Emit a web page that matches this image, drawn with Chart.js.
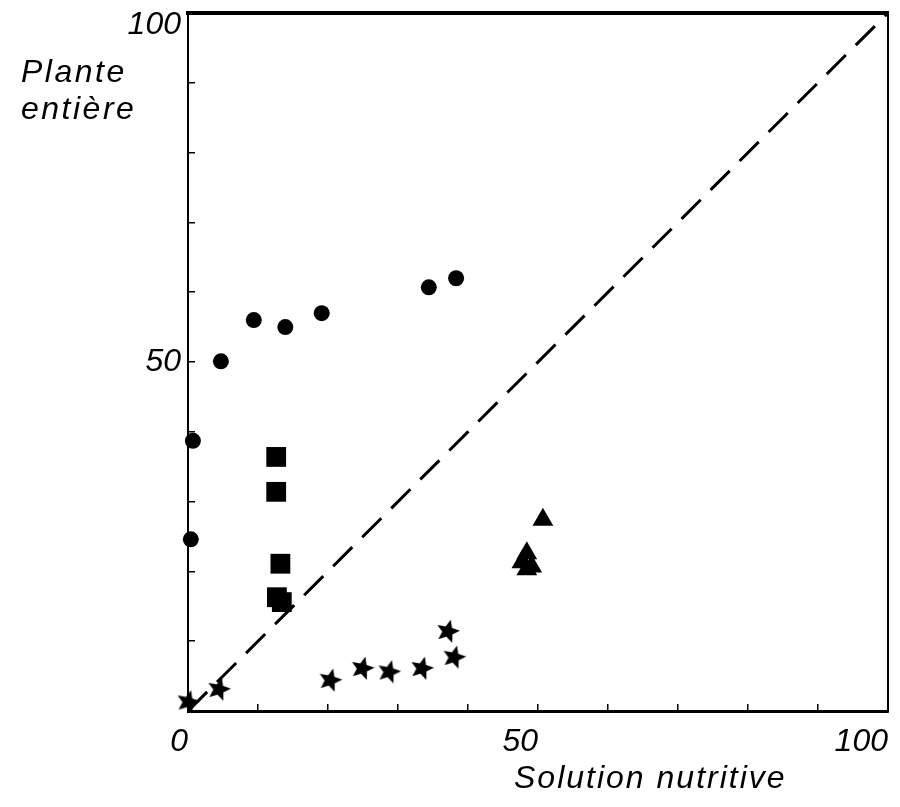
<!DOCTYPE html>
<html>
<head>
<meta charset="utf-8">
<script src="https://cdn.jsdelivr.net/npm/chart.js@4.4.0/dist/chart.umd.min.js"></script>
<style>
    html, body { margin: 0; padding: 0; background: #fff; }
    #wrap { position: relative; width: 900px; height: 807px; }
    #chart { position: absolute; left: 0; top: 0; }
    .lbl {
        position: absolute;
        font-family: "Liberation Sans", Arial, sans-serif;
        font-style: italic;
        font-size: 32px;
        letter-spacing: 2.5px;
        color: #000;
        white-space: nowrap;
    }
</style>
</head>
<body>
<div id="wrap">
    <canvas id="chart" width="900" height="807"></canvas>
    <div class="lbl" style="left:21px; top:53px; line-height:37px;">Plante<br>entière</div>
    <div class="lbl" style="left:514px; top:761px; line-height:32px; letter-spacing:2px;">Solution nutritive</div>
</div>
<script>
// valeurs (% solution nutritive / % plante entière)
const circleX = [0.7, 0.4, 4.7, 9.4, 13.9, 19.1, 34.4, 38.3];
const circleY = [38.7, 24.6, 50.1, 56.0, 55.0, 57.0, 60.7, 62.0];

const squareX = [12.6, 12.6, 13.2, 12.7, 13.4];
const squareY = [36.4, 31.4, 21.1, 16.3, 15.6];

const triangleX = [50.7, 48.4, 47.7, 49.1, 48.4];
const triangleY = [27.4, 22.6, 21.3, 20.7, 20.3];

const starX = [0.0, 4.4, 20.3, 24.9, 28.7, 33.4, 37.1, 38.0];
const starY = [1.3, 3.1, 4.4, 6.1, 5.6, 6.1, 11.4, 7.7];

// droite y = x
const diagX = [0, 100];
const diagY = [0, 100];

const axisMin = 0;
const axisMax = 100;
const tickStep = 10;
const xTickLabels = [0, 50, 100];
const yTickLabels = [50, 100];

function toPoints(xs, ys) {
    return xs.map((x, i) => ({ x: x, y: ys[i] }));
}

// étoile pleine à 5 branches pour les points
function makeStar(size) {
    const c = document.createElement('canvas');
    c.width = size;
    c.height = size;
    const g = c.getContext('2d');
    g.translate(size / 2, size / 2);
    g.rotate(0.25);
    g.beginPath();
    for (let i = 0; i < 10; i++) {
        const r = i % 2 ? size * 0.22 : size * 0.49;
        const a = -Math.PI / 2 + i * Math.PI / 5;
        g.lineTo(r * Math.cos(a), r * Math.sin(a));
    }
    g.closePath();
    g.fillStyle = '#000';
    g.fill();
    return c;
}

const tickFont = { family: '"Liberation Sans", Arial, sans-serif', style: 'italic', size: 32, lineHeight: 0.75 };

// pas de marge automatique: la zone de tracé reste fixe
function noPad(s) {
    s.paddingTop = 0;
    s.paddingBottom = 0;
    s.paddingLeft = 0;
    s.paddingRight = 0;
}

const ctx = document.getElementById('chart').getContext('2d');
new Chart(ctx, {
    type: 'scatter',
    data: {
        datasets: [
            {
                type: 'line',
                data: toPoints(diagX, diagY),
                borderColor: '#000',
                borderWidth: 3,
                borderDash: [27, 14],
                pointRadius: 0,
                fill: false
            },
            {
                data: toPoints(circleX, circleY),
                pointStyle: 'circle',
                pointRadius: 8,
                backgroundColor: '#000',
                borderWidth: 0,
                clip: false
            },
            {
                data: toPoints(squareX, squareY),
                pointStyle: 'rect',
                pointRadius: 14,
                backgroundColor: '#000',
                borderWidth: 0,
                clip: false
            },
            {
                data: toPoints(triangleX, triangleY),
                pointStyle: 'triangle',
                pointRadius: 12,
                backgroundColor: '#000',
                borderWidth: 0,
                clip: false
            },
            {
                data: toPoints(starX, starY),
                pointStyle: makeStar(25),
                clip: false
            }
        ]
    },
    options: {
        responsive: false,
        animation: false,
        layout: { autoPadding: false, padding: { left: 0, right: 12, top: 13, bottom: 0 } },
        plugins: { legend: { display: false }, tooltip: { enabled: false } },
        scales: {
            x: {
                type: 'linear',
                position: 'bottom',
                min: axisMin,
                max: axisMax,
                afterFit: s => { s.height = 96; noPad(s); },
                border: { color: '#000', width: 3 },
                grid: { drawOnChartArea: false, drawTicks: true, tickLength: -7, color: '#000', lineWidth: 1.5 },
                ticks: {
                    stepSize: tickStep,
                    autoSkip: false,
                    maxRotation: 0,
                    align: 'end',
                    padding: 26,
                    color: '#000',
                    font: tickFont,
                    callback: v => xTickLabels.includes(v) ? String(v) : ''
                }
            },
            y: {
                type: 'linear',
                position: 'left',
                min: axisMin,
                max: axisMax,
                afterFit: s => { s.width = 188; noPad(s); },
                border: { color: '#000', width: 2 },
                grid: { drawOnChartArea: false, drawTicks: true, tickLength: -7, color: '#000', lineWidth: 1.5 },
                ticks: {
                    stepSize: tickStep,
                    autoSkip: false,
                    padding: 14,
                    color: '#000',
                    font: tickFont,
                    callback: v => {
                        if (!yTickLabels.includes(v)) return '';
                        return v === axisMax ? ['', String(v)] : String(v);
                    }
                }
            },
            x2: {
                type: 'linear',
                position: 'top',
                min: axisMin,
                max: axisMax,
                afterFit: s => { s.height = 0; noPad(s); },
                border: { color: '#000', width: 4 },
                grid: { display: false },
                ticks: { display: false }
            },
            y2: {
                type: 'linear',
                position: 'right',
                min: axisMin,
                max: axisMax,
                afterFit: s => { s.width = 0; noPad(s); },
                border: { color: '#000', width: 2 },
                grid: { display: false },
                ticks: { display: false }
            }
        }
    }
});
</script>
</body>
</html>
